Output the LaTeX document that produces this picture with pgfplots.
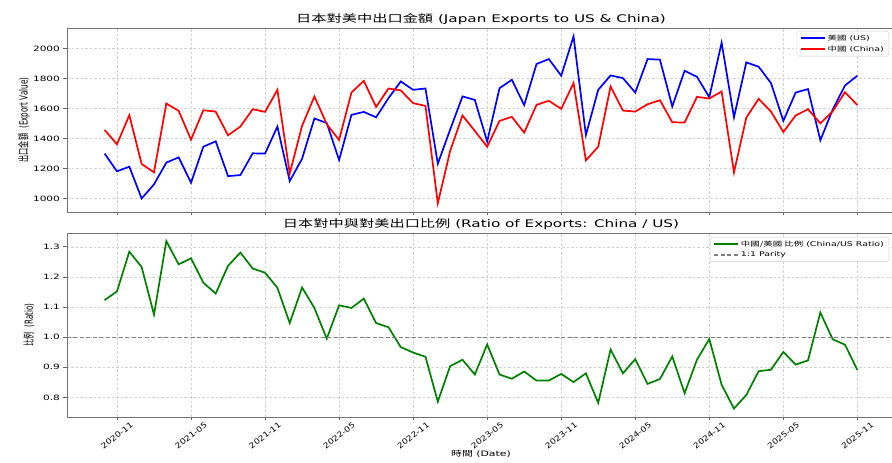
\documentclass[border=0pt]{standalone}
\usepackage{fontspec}
\setmainfont{DejaVu Sans}[FakeStretch=1.45]
\newfontfamily\cjk{Noto Sans CJK TC}[FakeStretch=1.45]
\newfontfamily\rlat{DejaVu Sans}[FakeStretch=0.64]
\newfontfamily\rcjk{Noto Sans CJK TC}[FakeStretch=0.64]
\newfontfamily\tlat{DejaVu Sans}[FakeStretch=1.2]
\usepackage{pgfplots}
\usepackage{pgfplotstable}
\pgfplotsset{compat=1.18}

% month index: 0 = 2020-11
\pgfplotstableread{
m  us   cn   ratio
-1 1301 1459 1.123
0  1183 1363 1.152
1  1214 1557 1.284
2  1002 1232 1.233
3  1096 1176 1.075
4  1241 1635 1.319
5  1276 1586 1.242
6  1107 1394 1.262
7  1347 1590 1.181
8  1383 1581 1.145
9  1151 1423 1.237
10 1158 1481 1.281
11 1303 1597 1.228
12 1301 1579 1.214
13 1481 1726 1.164
14 1118 1169 1.047
15 1267 1486 1.165
16 1535 1682 1.097
17 1505 1497 0.995
18 1258 1392 1.106
19 1559 1708 1.097
20 1579 1786 1.128
21 1543 1612 1.047
22 1670 1735 1.033
23 1782 1722 0.967
24 1726 1637 0.949
25 1735 1619 0.935
26 1234 970  0.786
27 1461 1319 0.904
28 1682 1555 0.925
29 1659 1452 0.876
30 1381 1347 0.976
31 1737 1519 0.876
32 1793 1546 0.862
33 1624 1441 0.886
34 1898 1626 0.856
35 1931 1653 0.856
36 1820 1599 0.878
37 2082 1771 0.851
38 1425 1256 0.880
39 1726 1347 0.782
40 1822 1748 0.959
41 1804 1588 0.880
42 1708 1581 0.927
43 1931 1630 0.845
44 1927 1657 0.861
45 1615 1510 0.936
46 1853 1508 0.814
47 1813 1679 0.925
48 1677 1668 0.994
49 2040 1715 0.842
50 1543 1176 0.763
51 1909 1541 0.808
52 1880 1666 0.887
53 1771 1581 0.892
54 1519 1445 0.951
55 1708 1555 0.909
56 1731 1597 0.923
57 1390 1503 1.082
58 1594 1583 0.993
59 1755 1710 0.975
60 1820 1624 0.891
}\exports

\pgfplotsset{
  panel/.style={
    scale only axis, width=828pt, height=184pt,
    xmin=-4.05, xmax=63.05,
    xtick={0,6,...,60},
    xtick pos=bottom, ytick pos=left,
    tick align=outside, major tick length=3.5pt,
    every tick/.style={black!60, line width=0.7pt},
    axis line style={black!55, line width=0.8pt},
    grid=major,
    major grid style={dash pattern=on 2.5pt off 2pt, black!18, line width=0.6pt},
    /pgf/number format/assume math mode=true,
    /pgf/number format/1000 sep={},
    scaled ticks=false,
    tick label style={font=\fontsize{7.3}{8}\selectfont},
    title style={font=\fontsize{10.5}{12}\selectfont, yshift=-6pt},
    ylabel style={font=\fontsize{11.2}{12}\selectfont, anchor=center},
    legend cell align=left,
    legend style={draw=black!20, fill=white, rounded corners=1.5pt,
      font=\fontsize{6.5}{7.5}\selectfont, inner xsep=3pt, inner ysep=1.5pt,
      anchor=north east},
    legend image code/.code={\draw[#1] (0pt,0pt) -- (24pt,0pt);},
  },
}

\begin{document}
\begin{tikzpicture}[x=1pt,y=1pt]
\useasboundingbox (0,0) rectangle (892,463);

% top panel: export values
\begin{axis}[panel,
  at={(67pt,251pt)}, anchor=south west,
  ymin=912, ymax=2138,
  ytick={1000,1200,...,2000},
  xticklabels={},
  title={{\cjk 日本對美中出口金額} (Japan Exports to US \& China)},
  ylabel={{\rcjk 出口金額} {\rlat (Export Value)}},
  ylabel style={at={(axis description cs:-0.052,0.5)}},
  legend style={at={(axis description cs:1,1)}, xshift=-6pt, yshift=-3pt},
]
\addplot[blue, line width=1.7pt] table[x=m, y=us] {\exports};
\addlegendentry{{\cjk 美國} (US)}
\addplot[red, line width=1.7pt] table[x=m, y=cn] {\exports};
\addlegendentry{{\cjk 中國} (China)}
\end{axis}

% bottom panel: ratio
\begin{axis}[panel,
  at={(67pt,46pt)}, anchor=south west,
  ymin=0.735, ymax=1.346,
  ytick={0.8,0.9,1.0,1.1,1.2,1.3},
  yticklabel style={/pgf/number format/.cd, fixed, fixed zerofill, precision=1},
  xticklabels={2020-11,2021-05,2021-11,2022-05,2022-11,2023-05,2023-11,2024-05,2024-11,2025-05,2025-11},
  xticklabel style={font=\tlat\fontsize{7.6}{8}\selectfont, rotate=38, anchor=center},
  xticklabel shift=15pt,
  title={{\cjk 日本對中與對美出口比例} (Ratio of Exports: China / US)},
  xlabel={{\cjk 時間} (Date)},
  xlabel style={font=\fontsize{7.5}{9}\selectfont, at={(axis description cs:0.5,0)}, anchor=center, yshift=-36.5pt},
  ylabel={{\rcjk 比例} {\rlat (Ratio)}},
  ylabel style={at={(axis description cs:-0.046,0.5)}},
  legend style={at={(axis description cs:1,1)}, xshift=-6pt, yshift=-4pt},
]
\addplot[color={rgb,255:red,0;green,128;blue,0}, line width=1.7pt] table[x=m, y=ratio] {\exports};
\addlegendentry{{\cjk 中國/美國 比例} (China/US Ratio)}
\addplot[gray, line width=1.2pt, dash pattern=on 4pt off 2.5pt] coordinates {(-4.05,1) (63.05,1)};
\addlegendentry{1:1 Parity}
\end{axis}
\end{tikzpicture}
\end{document}
